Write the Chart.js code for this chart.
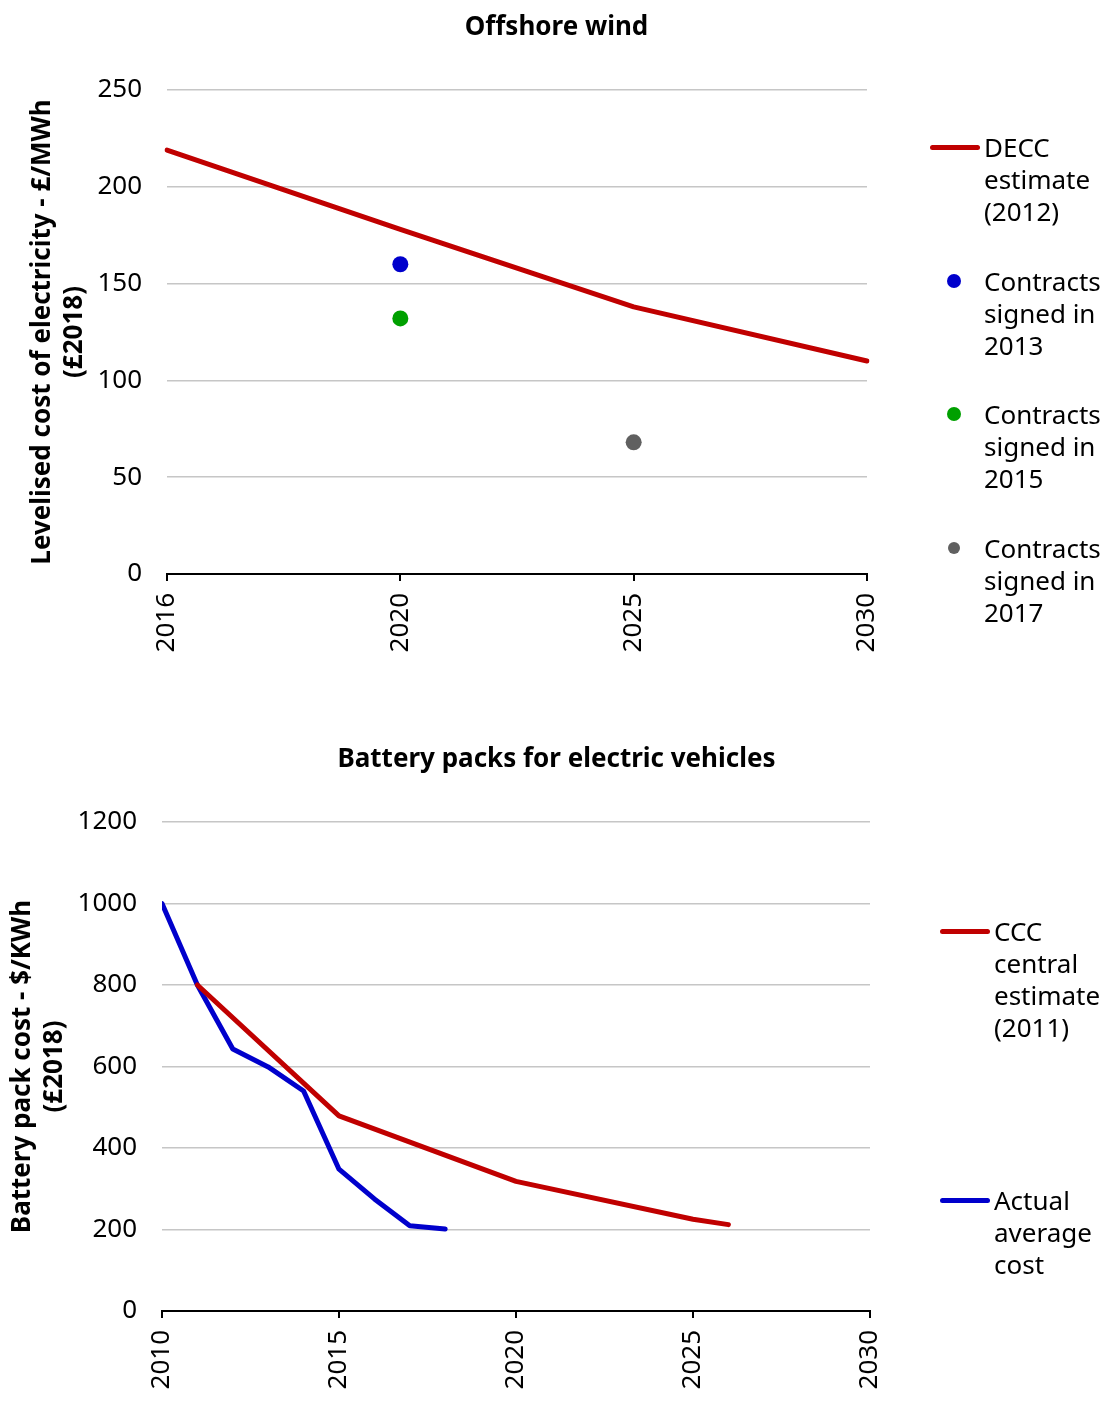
<!DOCTYPE html>
<html>
<head>
<meta charset="utf-8">
<script src="https://cdn.jsdelivr.net/npm/chart.js@4.4.1/dist/chart.umd.min.js"></script>
<style>
  body { margin: 0; background: #fff; font-family: "Noto Sans", sans-serif; }
  #page { position: relative; width: 1113px; height: 1405px; overflow: hidden; }
  .box { position: absolute; left: 0; width: 1113px; }
  .chart-title { position: absolute; left: 0; width: 1113px; text-align: center; font-size: 26px; font-weight: bold; line-height: 32px; color: #000; }
  .legend-text { position: absolute; font-size: 26px; line-height: 32px; color: #000; white-space: nowrap; }
  .legend-line { position: absolute; height: 5px; border-radius: 3px; }
  .legend-dot { position: absolute; border-radius: 50%; }
</style>
</head>
<body>
<div id="page">
  <div class="box" style="top:0;height:700px"><canvas id="windChart"></canvas></div>
  <div class="box" style="top:700px;height:705px"><canvas id="batteryChart"></canvas></div>
  <div class="chart-title" style="top:9px">Offshore wind</div>
  <div class="chart-title" style="top:741px">Battery packs for electric vehicles</div>
  <div id="legends"></div>
</div>
<script>
// offshore wind
const windYears = ["2016", "2020", "2025", "2030"];
const deccEstimate = [219, 178, 138, 110];
const contracts2013 = [null, 160, null, null];
const contracts2015 = [null, 132, null, null];
const contracts2017 = [null, null, 68, null];

// battery packs
const batteryTickYears = [2010, 2015, 2020, 2025, 2030];
const cccYears = [2011, 2015, 2020, 2025, 2026];
const cccEstimate = [800, 479, 318, 225, 212];
const actualYears = [2010, 2011, 2012, 2013, 2014, 2015, 2016, 2017, 2018];
const actualCost = [1000, 800, 643, 599, 540, 348, 275, 209, 201];

const RED = "#c00000";
const BLUE = "#0000cc";
const GREEN = "#00a000";
const GREY = "#606060";

Chart.defaults.font.family = "Noto Sans";
Chart.defaults.color = "#000";

function toPoints(xs, ys) {
  return xs.map((x, i) => ({ x: x, y: ys[i] }));
}

function xAxisOptions(height, extra, labelFn) {
  return Object.assign({
    grid: { drawOnChartArea: false, drawTicks: true, tickLength: 7, color: "#000", lineWidth: 2 },
    border: { display: true, color: "#000", width: 2 },
    ticks: { font: { size: 26 }, minRotation: 90, maxRotation: 90, autoSkip: false, padding: 12, callback: labelFn },
    afterFit: (s) => { s.height = height; },
  }, extra);
}

function yAxisOptions(title, max, step, width, titleTop) {
  return {
    min: 0,
    max: max,
    grid: { color: "#c6c6c6", lineWidth: 1.5, drawTicks: false },
    border: { display: false },
    ticks: { stepSize: step, font: { size: 26 }, padding: 25, callback: (v) => String(v) },
    title: {
      display: true,
      text: title,
      font: { size: 26, weight: "bold", lineHeight: 1.22 },
      padding: { top: titleTop, bottom: 0 },
    },
    afterFit: (s) => { s.width = width; },
  };
}

function dotDataset(label, data, color) {
  return {
    label: label,
    data: data,
    showLine: false,
    pointRadius: 8,
    pointHoverRadius: 8,
    pointBorderWidth: 0,
    pointBackgroundColor: color,
    borderColor: color,
  };
}

function lineDataset(label, data, color) {
  return {
    label: label,
    data: data,
    borderColor: color,
    borderWidth: 5,
    borderCapStyle: "round",
    borderJoinStyle: "round",
    pointRadius: 0,
    tension: 0,
  };
}

const commonPlugins = {
  legend: { display: false },
  tooltip: { enabled: false },
  title: { display: false },
};

new Chart(document.querySelector("#windChart"), {
  type: "line",
  data: {
    labels: windYears,
    datasets: [
      lineDataset("DECC estimate (2012)", deccEstimate, RED),
      dotDataset("Contracts signed in 2013", contracts2013, BLUE),
      dotDataset("Contracts signed in 2015", contracts2015, GREEN),
      dotDataset("Contracts signed in 2017", contracts2017, GREY),
    ],
  },
  options: {
    responsive: true,
    maintainAspectRatio: false,
    animation: false,
    layout: { padding: { top: 90, right: 246, left: 0, bottom: 0 } },
    plugins: commonPlugins,
    scales: {
      x: xAxisOptions(126, { type: "category", offset: false }, function (v) { return this.getLabelForValue(v); }),
      y: yAxisOptions(["Levelised cost of electricity - £/MWh", "(£2018)"], 250, 50, 167, 27),
    },
  },
});

new Chart(document.querySelector("#batteryChart"), {
  type: "line",
  data: {
    datasets: [
      lineDataset("CCC central estimate (2011)", toPoints(cccYears, cccEstimate), RED),
      lineDataset("Actual average cost", toPoints(actualYears, actualCost), BLUE),
    ],
  },
  options: {
    responsive: true,
    maintainAspectRatio: false,
    animation: false,
    layout: { padding: { top: 122, right: 243, left: 0, bottom: 0 } },
    plugins: commonPlugins,
    scales: {
      x: xAxisOptions(94, {
        type: "linear",
        min: batteryTickYears[0],
        max: batteryTickYears[batteryTickYears.length - 1],
        afterBuildTicks: (s) => { s.ticks = batteryTickYears.map((v) => ({ value: v })); },
      }, (v) => String(v)),
      y: yAxisOptions(["Battery pack cost - $/KWh", "(£2018)"], 1200, 200, 162, 7),
    },
  },
});

// legends (html, so the lines can wrap like the original)
const legendItems = [
  { kind: "line", color: RED, x: 930, y: 147, lines: ["DECC", "estimate", "(2012)"] },
  { kind: "dot", color: BLUE, r: 7, x: 954, y: 281, lines: ["Contracts", "signed in", "2013"] },
  { kind: "dot", color: GREEN, r: 7, x: 954, y: 414, lines: ["Contracts", "signed in", "2015"] },
  { kind: "dot", color: GREY, r: 6, x: 954, y: 548, lines: ["Contracts", "signed in", "2017"] },
  { kind: "line", color: RED, x: 940, y: 931, lines: ["CCC", "central", "estimate", "(2011)"] },
  { kind: "line", color: BLUE, x: 940, y: 1200, lines: ["Actual", "average", "cost"] },
];

function legendItemHTML(item) {
  let marker;
  let textLeft;
  if (item.kind === "line") {
    marker = `<div class="legend-line" style="left:${item.x}px;top:${item.y - 2.5}px;width:50px;background:${item.color}"></div>`;
    textLeft = item.x + 54;
  } else {
    marker = `<div class="legend-dot" style="left:${item.x - item.r}px;top:${item.y - item.r}px;width:${item.r * 2}px;height:${item.r * 2}px;background:${item.color}"></div>`;
    textLeft = 984;
  }
  return `${marker}<div class="legend-text" style="left:${textLeft}px;top:${item.y - 16}px">${item.lines.join("<br>")}</div>`;
}

document.querySelector("#legends").innerHTML = legendItems.map(legendItemHTML).join("");
</script>
</body>
</html>
